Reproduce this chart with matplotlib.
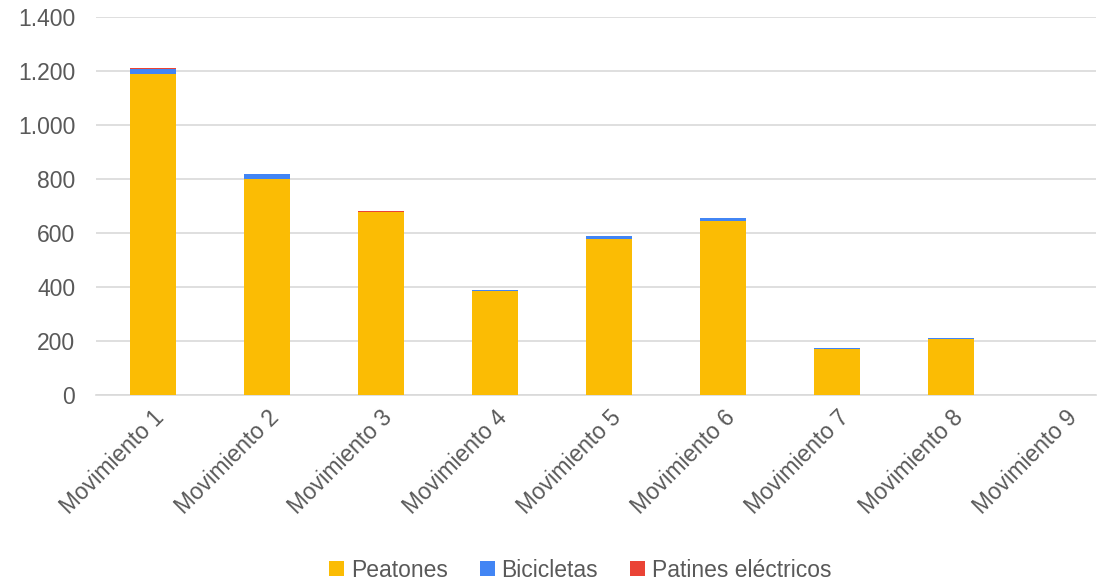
import matplotlib
matplotlib.use("Agg")
import matplotlib.pyplot as plt
import numpy as np

plt.rcParams["font.family"] = ["Liberation Sans", "DejaVu Sans"]

categories = [f"Movimiento {i}" for i in range(1, 10)]
peatones = [1190, 800, 679, 385, 578, 644, 170, 207, 0]
bicicletas = [17, 18, 1, 5, 12, 11, 5, 5, 0]
patines = [4, 3, 4, 0, 1, 1, 0, 0, 0]

C_PEA = "#FBBC04"
C_BIC = "#4285F4"
C_PAT = "#EA4335"
TXT = "#595959"

fig = plt.figure(figsize=(11.16, 5.81), dpi=100)
ax = fig.add_axes([0.086, 0.32, 0.896, 0.65])

x = np.arange(len(categories))
w = 0.40
p = np.array(peatones)
b = np.array(bicicletas)
ax.bar(x, peatones, w, color=C_PEA, label="Peatones", zorder=3)
ax.bar(x, bicicletas, w, bottom=p, color=C_BIC, label="Bicicletas", zorder=3)
ax.bar(x, patines, w, bottom=p + b, color=C_PAT, label="Patines eléctricos", zorder=3)

ax.set_xlim(-0.5, 8.27)
ax.set_ylim(0, 1400)
yt = np.arange(0, 1401, 200)
ax.set_yticks(yt)
ax.set_yticklabels([f"{v:,}".replace(",", ".") for v in yt], fontsize=16.5, color=TXT)
ax.yaxis.grid(True, color="#d9d9d9", linewidth=1.2, zorder=0)
ax.set_xticks(x)
ax.set_xticklabels(categories, rotation=45, ha="right", rotation_mode="anchor",
                   fontsize=16.5, color=TXT)
ax.tick_params(axis="y", length=0, pad=15)
ax.tick_params(axis="x", length=0, pad=8)
for s in ["top", "right", "left"]:
    ax.spines[s].set_visible(False)
ax.spines["bottom"].set_color("#d9d9d9")
ax.spines["bottom"].set_linewidth(1.2)

leg = fig.legend(loc="lower center", bbox_to_anchor=(0.52, -0.037), ncol=3, frameon=False,
                 fontsize=16.5, handlelength=0.65, handleheight=0.65, handletextpad=0.3,
                 columnspacing=1.4)
for t in leg.get_texts():
    t.set_color(TXT)

fig.savefig("out.png", dpi=100)
